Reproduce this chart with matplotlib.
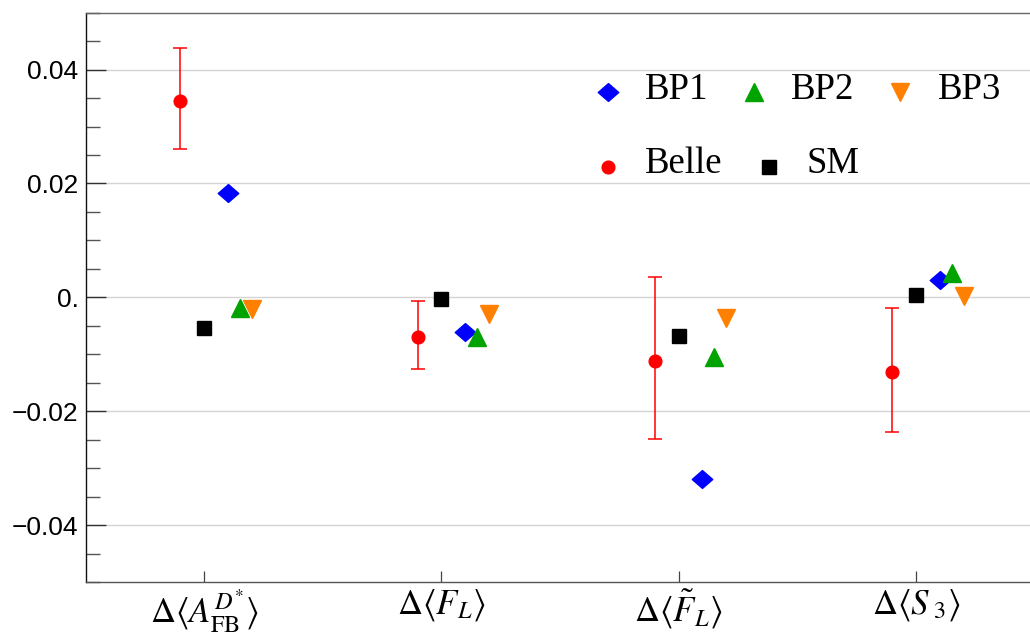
import numpy as np
import matplotlib
matplotlib.use('Agg')
import matplotlib.pyplot as plt
from matplotlib.ticker import FixedLocator, FixedFormatter
from matplotlib.path import Path

# ---------------- data ----------------
categories = [r'$\Delta\langle A_{\mathrm{FB}}^{D^{*}}\rangle$',
              r'$\Delta\langle F_L\rangle$',
              r'$\Delta\langle \tilde{F}_L\rangle$',
              r'$\Delta\langle S_{\;3}\rangle$']
belle = [0.0345, -0.0070, -0.0112, -0.0131]
belle_upper = [0.0438, -0.0007, 0.0036, -0.0018]
belle_lower = [0.0260, -0.0125, -0.0249, -0.0236]
sm = [-0.0054, -0.0003, -0.0068, 0.0005]
bp1 = [0.0184, -0.0061, -0.0319, 0.0030]
bp2 = [-0.0018, -0.0069, -0.0104, 0.0043]
bp3 = [-0.0021, -0.0029, -0.0037, 0.0003]
ytick_values = [-0.04, -0.02, 0.0, 0.02, 0.04]
ytick_labels = ['\u22120.04', '\u22120.02', '0.', '0.02', '0.04']
legend_labels = ['BP1', 'BP2', 'BP3', 'Belle', 'SM']

# ---------------- style ----------------
plt.rcParams['mathtext.fontset'] = 'stix'
plt.rcParams['font.family'] = ['Liberation Sans', 'DejaVu Sans']

c_bp1 = '#0000ff'
c_bp2 = '#00a300'
c_bp3 = '#ff8000'
c_belle = '#ff0000'
c_sm = '#000000'

diamond = Path([(-1, 0), (0, 0.87), (1, 0), (0, -0.87), (-1, 0)],
               [Path.MOVETO, Path.LINETO, Path.LINETO, Path.LINETO, Path.CLOSEPOLY])

W, H = 1030, 637
fig = plt.figure(figsize=(W / 100, H / 100), dpi=100)
ax = fig.add_axes([85.5 / W, 1 - 582 / H, (W - 85.5) / W, (582 - 12.7) / H])

x = np.arange(1, len(categories) + 1)


def px(p):
    return p * 72.0 / 100.0


yerr = [np.array(belle) - np.array(belle_lower), np.array(belle_upper) - np.array(belle)]
ax.errorbar(x - 0.1, belle, yerr=yerr, fmt='o', color=c_belle, ms=px(12.7),
            elinewidth=1.1, capsize=px(7), capthick=1.1, zorder=3)
ax.plot(x, sm, 's', color=c_sm, ms=px(14), zorder=4, linestyle='none')
ax.plot(x + 0.1, bp1, marker=diamond, color=c_bp1, ms=px(20.5), zorder=5, linestyle='none')
ax.plot(x + 0.15, bp2, '^', color=c_bp2, ms=px(17.3), zorder=6, linestyle='none')
ax.plot(x + 0.2, bp3, 'v', color=c_bp3, ms=px(17.3), zorder=7, linestyle='none')

ax.set_xlim(0.5, 0.5 + (W - 85.5) / 237.3)
ax.set_ylim(-0.05, 0.05)

ax.xaxis.set_major_locator(FixedLocator(x))
ax.xaxis.set_major_formatter(FixedFormatter(categories))
ax.yaxis.set_major_locator(FixedLocator(ytick_values))
ax.yaxis.set_major_formatter(FixedFormatter(ytick_labels))
ax.yaxis.set_minor_locator(FixedLocator(np.arange(-0.05, 0.0501, 0.005)))

ax.tick_params(axis='y', which='major', direction='in', length=px(20), width=1.0,
               color='#333333', labelsize=19, pad=5, labelcolor='black')
ax.tick_params(axis='y', which='minor', direction='in', length=px(13.7), width=1.0,
               color='#555555')
ax.tick_params(axis='x', which='major', direction='in', length=px(11), width=0.9,
               color='#444444', labelsize=25, pad=4)

ax.grid(axis='y', which='major', color='#d4d4d4', linewidth=1.0, zorder=0)
ax.set_axisbelow(True)

ax.spines['right'].set_visible(False)
ax.spines['left'].set_color('#111111')
ax.spines['bottom'].set_color('#555555')
ax.spines['top'].set_color('#666666')
for s in ['left', 'bottom', 'top']:
    ax.spines[s].set_linewidth(1.0)

# ---------------- legend (manual, two rows) ----------------
def fx(p):
    return p / W


def fy(p):
    return 1 - p / H


leg_font = dict(family=['Liberation Serif', 'DejaVu Serif'], fontsize=26.5, va='baseline', ha='left')
rows = [
    (92.3, 99.3, [(607.7, 645, diamond, c_bp1, 20.5, legend_labels[0]),
                  (754, 791, '^', c_bp2, 17.3, legend_labels[1]),
                  (900, 937.7, 'v', c_bp3, 17.3, legend_labels[2])]),
    (166.7, 173.3, [(607.7, 645, 'o', c_belle, 12.7, legend_labels[3]),
                    (769, 806.7, 's', c_sm, 14, legend_labels[4])]),
]
for my, ty, items in rows:
    for mx, tx, mk, col, size, lab in items:
        fig.lines.append(plt.Line2D([fx(mx)], [fy(my)], marker=mk, color=col, ms=px(size),
                                    linestyle='none', transform=fig.transFigure))
        fig.text(fx(tx), fy(ty), lab, **leg_font)

fig.savefig('out.png', dpi=100)
